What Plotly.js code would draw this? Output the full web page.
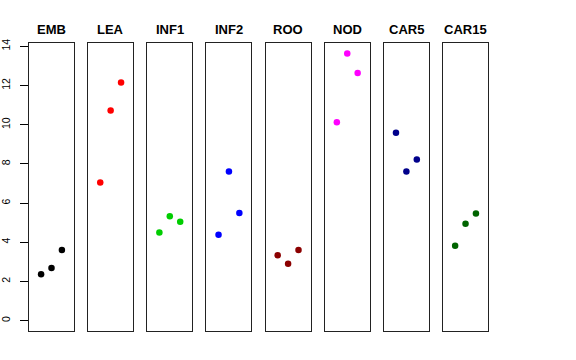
<!DOCTYPE html>
<html>
<head>
<meta charset="utf-8">
<script src="https://cdn.plot.ly/plotly-3.0.1.min.js"></script>
<style>html,body{margin:0;padding:0;background:#fff}#chart{width:576px;height:360px}</style>
</head>
<body>
<div id="chart"></div>
<script>
const categories = ["EMB", "LEA", "INF1", "INF2", "ROO", "NOD", "CAR5", "CAR15"];
const replicate = [1, 2, 3];
const EMB = [2.37, 2.68, 3.61];
const LEA = [7.05, 10.72, 12.16];
const INF1 = [4.50, 5.33, 5.04];
const INF2 = [4.38, 7.61, 5.49];
const ROO = [3.34, 2.90, 3.61];
const NOD = [10.12, 13.64, 12.64];
const CAR5 = [9.59, 7.61, 8.23];
const CAR15 = [3.82, 4.94, 5.47];
const seriesValues = [EMB, LEA, INF1, INF2, ROO, NOD, CAR5, CAR15];
const colors = ["#000000", "#FF0000", "#00CD00", "#0000FF", "#8B0000", "#FF00FF", "#00008B", "#006400"];
const yTicks = [0, 2, 4, 6, 8, 10, 12, 14];

const traces = [];
const layout = {
  width: 576, height: 360,
  margin: {l: 29, r: 87.7, t: 43.3, b: 29, pad: 0},
  paper_bgcolor: "#fff", plot_bgcolor: "#fff",
  showlegend: false,
  font: {family: "Liberation Sans, Arial, sans-serif", color: "#000"},
  annotations: []
};
const totalW = 459.3, step = 59.19, panelW = 45;
categories.forEach((cat, i) => {
  const sfx = i === 0 ? "" : String(i + 1);
  traces.push({
    type: "scatter", mode: "markers",
    x: replicate, y: seriesValues[i],
    xaxis: "x" + sfx, yaxis: "y" + sfx,
    marker: {color: colors[i], size: 6.5},
    hoverinfo: "skip"
  });
  const d0 = (step * i) / totalW, d1 = (step * i + panelW) / totalW;
  layout["xaxis" + sfx] = {
    domain: [d0, Math.min(1, d1)], range: [-0.16, 4.16],
    showgrid: false, zeroline: false, showticklabels: false, ticks: "",
    showline: true, mirror: true, linecolor: "#222", linewidth: 1,
    anchor: "y" + sfx, fixedrange: true
  };
  layout["yaxis" + sfx] = {
    range: [-0.53, 14.17], anchor: "x" + sfx,
    showgrid: false, zeroline: false,
    showline: true, mirror: true, linecolor: "#222", linewidth: 1,
    showticklabels: i === 0, ticks: i === 0 ? "outside" : "",
    tickvals: i === 0 ? yTicks : [], ticktext: yTicks.map(String),
    ticklen: 8, tickcolor: "#000", tickwidth: 1, tickangle: -90,
    ticklabelstandoff: 6,
    tickfont: {size: 10.5, color: "#000", family: "Liberation Sans, Arial, sans-serif"},
    fixedrange: true
  };
  layout.annotations.push({
    text: "<b>" + cat + "</b>", xref: "x" + sfx + " domain", yref: "paper",
    x: 0.5, y: 1.047, xanchor: "center", yanchor: "middle", showarrow: false,
    font: {size: 13, color: "#000", family: "Liberation Sans, Arial, sans-serif"}
  });
});
Plotly.newPlot("chart", traces, layout, {staticPlot: true, displayModeBar: false});
</script>
</body>
</html>
